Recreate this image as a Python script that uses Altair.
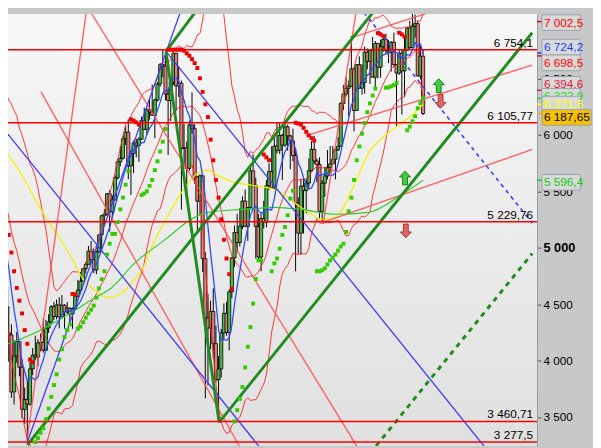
import altair as alt
import pandas as pd

# ---------------- monthly candles: index 0 = Dec 2000 ... index 176 = Aug 2015 ----------------
first_open = 6142.4
closes = [
    6222.5,
    6297.5, 5917.9, 5633.7, 5966.9, 5796.1, 5642.5, 5529.1, 5345.0, 4903.4, 5039.7, 5203.6, 5217.4,
    5164.8, 5101.0, 5271.8, 5165.6, 5085.1, 4656.4, 4246.2, 4227.3, 3721.8, 4039.7, 4169.4, 3940.4,
    3567.4, 3655.6, 3613.3, 3926.0, 4048.1, 4031.2, 4157.0, 4161.1, 4091.3, 4287.6, 4342.6, 4476.9,
    4390.7, 4492.2, 4385.7, 4489.7, 4430.7, 4464.1, 4413.1, 4459.3, 4570.8, 4624.2, 4703.2, 4814.3,
    4852.3, 4968.5, 4894.4, 4801.7, 4964.0, 5113.2, 5282.3, 5296.9, 5477.7, 5317.3, 5423.2, 5618.8,
    5760.3, 5791.5, 5964.6, 6023.1, 5723.8, 5833.4, 5928.3, 5906.1, 5960.8, 6129.2, 6048.8, 6220.8,
    6203.1, 6171.5, 6308.0, 6449.2, 6621.4, 6607.9, 6360.1, 6303.3, 6466.8, 6721.6, 6432.5, 6456.9,
    5879.8, 5884.3, 5702.1, 6087.3, 6053.5, 5625.9, 5411.9, 5636.6, 4902.5, 4377.3, 4288.0, 4434.2,
    4149.6, 3830.1, 3926.1, 4243.7, 4417.9, 4249.2, 4608.4, 4908.9, 5133.9, 5044.6, 5190.7, 5412.9,
    5188.5, 5354.5, 5679.6, 5553.3, 5188.4, 4916.9, 5258.0, 5225.2, 5548.6, 5675.2, 5528.3, 5899.9,
    5862.9, 5994.0, 5908.8, 6069.9, 5990.0, 5945.7, 5815.2, 5394.5, 5128.5, 5544.2, 5505.4, 5572.3,
    5681.6, 5871.5, 5768.5, 5737.8, 5320.9, 5571.1, 5635.3, 5711.5, 5742.1, 5782.7, 5866.8, 5897.8,
    6276.9, 6360.8, 6411.7, 6430.1, 6583.1, 6215.5, 6621.1, 6412.9, 6462.2, 6731.4, 6650.6, 6749.1,
    6510.4, 6809.7, 6598.4, 6780.0, 6844.5, 6743.9, 6730.1, 6819.8, 6622.7, 6546.5, 6722.6, 6566.1,
    6749.4, 6946.7, 6773.0, 6960.6, 6984.4, 6521.0, 6696.3, 6187.65,
]
highs = [
    6245,
    6360, 6360, 5990, 5975, 6010, 5880, 5700, 5570, 5400, 5280, 5360, 5300,
    5310, 5180, 5330, 5290, 5240, 5210, 4670, 4480, 4320, 4180, 4250, 4160,
    4010, 3760, 3810, 3990, 4110, 4220, 4190, 4240, 4370, 4360, 4410, 4490,
    4520, 4540, 4560, 4580, 4500, 4520, 4470, 4470, 4590, 4715, 4785, 4820,
    4870, 5015, 5060, 4990, 4975, 5115, 5290, 5340, 5485, 5510, 5465, 5640,
    5785, 5900, 5990, 6075, 6137, 5860, 5950, 5965, 5980, 6160, 6240, 6240,
    6320, 6445, 6320, 6465, 6635, 6754.1, 6716, 6405, 6520, 6730, 6727, 6605,
    6480, 6095, 5940, 6125, 6376, 6095, 5630, 5650, 5645, 4960, 4590, 4530,
    4640, 4310, 4040, 4280, 4505, 4520, 4630, 4920, 5195, 5300, 5350, 5455,
    5515, 5360, 5710, 5825, 5620, 5300, 5315, 5415, 5600, 5750, 5900, 5995,
    6105, 6105.77, 6010, 6100, 6090, 6000, 6055, 5875, 5445, 5610, 5625, 5615,
    5790, 5945, 5990, 5790, 5800, 5600, 5715, 5865, 5900, 5900, 5875, 5980,
    6290, 6440, 6510, 6480, 6875, 6600, 6625, 6695, 6625, 6780, 6765, 6750,
    6867, 6830, 6810, 6845, 6880, 6895, 6840, 6830, 6905, 6625, 6755, 6750,
    6860, 6960, 7010, 7122.7, 7065, 7005, 6790, 6755,
]
lows = [
    6040,
    6110, 5880, 5314, 5520, 5750, 5600, 5330, 5280, 4434, 4890, 4990, 5080,
    5040, 4990, 5070, 5100, 5030, 4500, 3777, 3990, 3670, 3610, 3980, 3860,
    3490, 3440, 3277.5, 3600, 3870, 4000, 3950, 4080, 4070, 4085, 4245, 4330,
    4360, 4365, 4285, 4385, 4282, 4405, 4335, 4281, 4450, 4560, 4615, 4700,
    4770, 4850, 4865, 4775, 4765, 4950, 4985, 5210, 5285, 5143, 5260, 5415,
    5605, 5720, 5780, 5910, 5605, 5467, 5660, 5800, 5760, 5955, 6040, 6000,
    6135, 6170, 5970, 6295, 6425, 6510, 6305, 5821, 6120, 6440, 6210, 6335,
    5337, 5750, 5410, 5680, 6010, 5565, 5150, 5290, 4785, 3665, 3780, 4100,
    4025, 3805, 3460.71, 3850, 4185, 4220, 4090, 4550, 4830, 4960, 5010, 5165,
    5180, 5060, 5340, 5540, 4904, 4900, 4790, 5170, 5180, 5510, 5520, 5515,
    5835, 5830, 5600, 5890, 5860, 5695, 5765, 4791, 4945, 4935, 5125, 5305,
    5520, 5675, 5740, 5580, 5260, 5229.76, 5450, 5605, 5660, 5740, 5605, 5855,
    5895, 6220, 6340, 6165, 6425, 6030, 6215, 6410, 6355, 6365, 6580, 6450,
    6505, 6415, 6500, 6505, 6735, 6720, 6635, 6560, 6600, 6072, 6530, 6180,
    6335, 6745, 6755, 6765, 6860, 6515, 6490, 6175,
]
opens = [first_open] + closes[:-1]

# ---------------- slow moving averages ----------------
yellow_t = [18.7, 26.6, 30.6, 36.8, 43.0, 47.7, 51.3, 57.5, 62.2, 66.9, 70.5, 74.2, 79.2, 85.0, 91.2,
            94.8, 98.5, 103.2, 113.0, 121.3, 127.5, 131.1, 134.7, 137.3, 143.1, 149.2, 155.4, 161.2,
            167.4, 173.5, 176.0]
yellow_v = [5861, 5574, 5400, 5165, 4939, 4730, 4643, 4557, 4591, 4704, 4817, 5026, 5252, 5487, 5661,
            5687, 5643, 5591, 5548, 5504, 5400, 5339, 5287, 5252, 5270, 5513, 5835, 5983,
            6096, 6209, 6271.5]
green_t = [18.7, 30.6, 43.0, 52.4, 58.6, 66.9, 79.2, 88.7, 94.8, 108.2, 120.2, 130.0, 143.1, 155.4,
           167.4, 176.0]
green_v = [4139, 4252, 4417, 4557, 4643, 4852, 5078, 5252, 5313, 5339, 5357, 5339, 5296, 5313,
           5461, 5596.4]

# ---------------- parabolic SAR dots (direction, first index, values) ----------------
sar_segments = [
    ("down", 19, [5270, 5113, 4957, 4791, 4643, 4530, 4417, 4270, 4148, 4009, 3983]),
    ("up", 30, [3277, 3313, 3360, 3400, 3480, 3574, 3678, 3783, 3878, 4009, 4100, 4209, 4270, 4320]),
    ("down", 44, [4590, 4585]),
    ("up", 46, [4281, 4300, 4340, 4380, 4417, 4450, 4487, 4557, 4640, 4720, 4791, 4939, 5035, 5122,
                5122, 5226, 5339, 5443, 5557, 5678]),
    ("down", 66, [6137, 6125, 6110, 6090]),
    ("up", 70, [5467, 5480, 5500, 5548, 5600, 5687, 5765, 5852, 5939, 6050]),
    ("down", 80, [6754, 6754, 6754, 6754, 6754, 6754, 6745, 6722, 6700, 6670, 6635, 6591, 6500, 6380,
                  6270, 6157, 5957, 5774, 5600, 5443, 5252, 5070, 4904, 4765, 4635]),
    ("up", 105, [3461, 3560, 3660, 3765, 3939, 4122, 4296, 4504, 4722, 4887, 4887]),
    ("down", 116, [5825, 5800, 5775]),
    ("up", 119, [4791, 4861, 4904, 4991, 5113, 5183, 5287, 5435, 5504]),
    ("down", 128, [6106, 6100, 6090, 6061, 6026, 5995, 5970, 5948]),
    ("up", 136, [4791, 4791, 4800, 4817, 4852, 4887, 4913, 4939, 4974, 5010, 5035, 5139, 5322, 5443,
                 5600, 5774, 5896, 6009, 6104, 6200, 6278, 6348, 6409]),
    ("down", 159, [6900, 6890, 6875]),
    ("up", 162, [6417, 6420, 6430, 6440, 6460]),
    ("down", 167, [6904, 6890, 6870]),
    ("up", 170, [6040, 6072, 6120, 6165, 6235, 6280, 6322.9]),
]

# ---------------- drawn trend lines: (t1, v1, t2, v2) ----------------
green_lines = [(27, 3252, 159.0, 7139), (79.2, 6739, 99.2, 3452), (79.2, 6739, 91.9, 7139),
               (99.2, 3452, 217.1, 6904)]
green_dashed = [(158.3, 3243, 217.1, 4948)]
blue_lines = [(27, 3278, 85.4, 7139), (79.2, 6739, 198.9, 3243), (18.7, 6035, 114.1, 3243)]
blue_dashed = [(151.8, 7139, 217.1, 5217)]
red_lines = [(27, 3313, 49.5, 7139), (49.5, 7139, 151.0, 3243), (32.1, 6383, 106.8, 3243),
             (138.4, 5209, 151.1, 7139), (131.8, 5991, 217.1, 6617), (138.6, 5226, 217.1, 5870),
             (149.2, 6861, 185.5, 7139)]

# ---------------- horizontal levels ----------------
levels = [6754.1, 6105.77, 5229.76, 3460.71, 3277.5]
level_labels = ["6 754,1", "6 105,77", "5 229,76", "3 460,71", "3 277,5"]

# ---------------- signal arrows ----------------
arrow_up_t = [181.9, 169.2]
arrow_up_v = [6435, 5617]
arrow_down_t = [182.6, 169.5]
arrow_down_v = [6296, 5148]

# ---------------- price boxes on the axis ----------------
box_values = [7002.5, 6724.2, 6698.5, 6394.6, 6322.9, 6271.5, 6187.65, 5596.4]
box_texts = ["7 002,5", "6 724,2", "6 698,5", "6 394,6", "6 322,9", "6 271,5", "6 187,65", "5 596,4"]
box_colors = ["#ff0000", "#1a3cff", "#ff0000", "#e8143c", "#22dd22", "#ffff00", "#000000", "#11cc11"]
box_fills = ["#d9d9d9"] * 6 + ["#f6c000", "#d9d9d9"]
box_shift = [1, -6, 7, -6, -2, 0, 4, 2]

# axis tick values
y_ticks = [3500, 4000, 4500, 5000, 5500, 6000, 6500]

# ======================================================================
FONT = "Liberation Sans"
XS = alt.Scale(domain=[21.56, 217.06], nice=False, zero=False)
YS = alt.Scale(domain=[3243.5, 7069.6], nice=False, zero=False)

yaxis = alt.Axis(
    orient="right", title=None, grid=False,
    values=y_ticks,
    labelExpr="replace(format(datum.value, ','), ',', ' ')",
    labelFont=FONT, labelColor="#000000",
    labelFontSize=alt.condition("datum.value == 5000", alt.value(13), alt.value(12)),
    labelFontWeight=alt.condition("datum.value == 5000", alt.value("bold"), alt.value("normal")),
    tickColor="#4a5560", tickSize=4, domainColor="#8e9aa6", labelPadding=2,
    minExtent=46, maxExtent=46, labelOverlap=False, labelBound=False,
)


def X(f):
    return alt.X(f, type="quantitative", scale=XS, axis=None, title=None)


def Y(f):
    return alt.Y(f, type="quantitative", scale=YS, axis=yaxis, title=None)


df = pd.DataFrame({"t": list(range(len(closes))), "open": opens, "high": highs,
                   "low": lows, "close": closes})
df["dir"] = ["up" if c >= o else "down" for o, c in zip(opens, closes)]

bg = alt.Chart(pd.DataFrame({"z": [0]})).mark_rect(
    fill=alt.LinearGradient(gradient="linear",
                            stops=[alt.GradientStop(color="#f7f7f7", offset=0),
                                   alt.GradientStop(color="#e0e0e0", offset=1)],
                            x1=0, x2=0, y1=0, y2=1)
).encode(x=alt.value(0), x2=alt.value(539), y=alt.value(0), y2=alt.value(440))

wicks = alt.Chart(df).mark_rule(color="#000000", strokeWidth=1, clip=True).encode(
    x=X("t"), y=Y("low"), y2="high:Q")
bodies = alt.Chart(df).mark_bar(size=3.2, stroke="#000000", strokeWidth=0.8, clip=True).encode(
    x=X("t"), y=Y("open"), y2="close:Q",
    fill=alt.Fill("dir:N", scale=alt.Scale(domain=["up", "down"], range=["#45bb45", "#e87c7c"]),
                  legend=None))

boll = alt.Chart(df).transform_window(
    bb_mid="mean(close)", bb_sd="stdevp(close)", frame=[-19, 0], sort=[alt.SortField("t")]
).transform_filter("datum.t >= 19").transform_calculate(
    bb_up="datum.bb_mid + 2 * datum.bb_sd", bb_lo="datum.bb_mid - 2 * datum.bb_sd"
).transform_fold(["bb_up", "bb_mid", "bb_lo"], as_=["band", "val"]).mark_line(
    color="#ff2020", strokeWidth=1, opacity=0.9, clip=True
).encode(x=X("t"), y=Y("val"), detail="band:N")

sma = alt.Chart(df).transform_window(
    sma7="mean(close)", frame=[-6, 0], sort=[alt.SortField("t")]
).transform_filter("datum.t >= 6").mark_line(color="#2a4bff", strokeWidth=1.3, clip=True).encode(
    x=X("t"), y=Y("sma7"))

yel = alt.Chart(pd.DataFrame({"t": yellow_t, "v": yellow_v})).mark_line(
    color="#f2f200", strokeWidth=1.3, interpolate="monotone", clip=True).encode(x=X("t"), y=Y("v"))
grn = alt.Chart(pd.DataFrame({"t": green_t, "v": green_v})).mark_line(
    color="#2ecc2e", strokeWidth=1.2, interpolate="monotone", clip=True).encode(x=X("t"), y=Y("v"))


def seg_chart(segs, color, width, dash=None, opacity=1.0):
    d = pd.DataFrame(segs, columns=["t1", "v1", "t2", "v2"])
    kw = dict(color=color, strokeWidth=width, opacity=opacity, clip=True)
    if dash:
        kw["strokeDash"] = dash
    return alt.Chart(d).mark_rule(**kw).encode(x=X("t1"), y=Y("v1"), x2="t2:Q", y2="v2:Q")


reds = seg_chart(red_lines, "#ff4a4a", 1.4, opacity=0.85)
blues = seg_chart(blue_lines, "#3c3cff", 1.3)
blued = seg_chart(blue_dashed, "#3c3cff", 1.6, dash=[4, 4])
greens = seg_chart(green_lines, "#1f8c1f", 3)
greend = seg_chart(green_dashed, "#1f8c1f", 3, dash=[5, 5])

lev_df = pd.DataFrame({"level": levels, "label": level_labels})
lev = alt.Chart(lev_df).mark_rule(color="#ff0000", strokeWidth=1.5, clip=True).encode(y=Y("level"))
lev_txt = alt.Chart(lev_df).mark_text(align="right", baseline="alphabetic", dy=-3, font=FONT,
                                      fontSize=12, color="#000000").encode(
    x=alt.value(535), y=Y("level"), text="label:N")

sar_rows = []
for direction, start, vals in sar_segments:
    for k, v in enumerate(vals):
        sar_rows.append({"t": start + k, "v": v, "dir": direction})
sar = alt.Chart(pd.DataFrame(sar_rows)).mark_square(size=16, opacity=1, clip=True).encode(
    x=X("t"), y=Y("v"),
    color=alt.Color("dir:N", scale=alt.Scale(domain=["up", "down"], range=["#33cc00", "#ee0000"]),
                    legend=None))

up_path = "M0,-1L0.8,-0.15L0.35,-0.15L0.35,1L-0.35,1L-0.35,-0.15L-0.8,-0.15Z"
down_path = "M0,1L0.8,0.15L0.35,0.15L0.35,-1L-0.35,-1L-0.35,0.15L-0.8,0.15Z"
arr_up = alt.Chart(pd.DataFrame({"t": arrow_up_t, "v": arrow_up_v})).mark_point(
    shape=up_path, size=196, filled=True, fill="#3fd03f", stroke="#1c7a1c", strokeWidth=1,
    opacity=1).encode(x=X("t"), y=Y("v"))
arr_dn = alt.Chart(pd.DataFrame({"t": arrow_down_t, "v": arrow_down_v})).mark_point(
    shape=down_path, size=196, filled=True, fill="#e06464", stroke="#a03a3a", strokeWidth=1,
    opacity=1).encode(x=X("t"), y=Y("v"))

box_layers = []
for v, txt, col, fillc, off in zip(box_values, box_texts, box_colors, box_fills, box_shift):
    bd = pd.DataFrame({"v": [v], "txt": [txt]})
    wide = len(txt) > 7
    side = 50 if wide else 39
    hy = 8.0 / (side / 2.0)
    path = f"M-1,-{hy:.3f}L1,-{hy:.3f}L1,{hy:.3f}L-1,{hy:.3f}Z"
    cx = 544 + side / 2.0
    box_layers.append(alt.Chart(bd).mark_rule(color=col if col != "#000000" else "#f6a000",
                                              strokeWidth=1.5).encode(
        x=alt.value(539), x2=alt.value(544), y=Y("v")))
    box_layers.append(alt.Chart(bd).mark_point(
        shape=path, size=side * side, filled=True, fill=fillc, stroke="#98a3ad", strokeWidth=1,
        opacity=1, yOffset=off).encode(x=alt.value(cx), y=Y("v")))
    box_layers.append(alt.Chart(bd).mark_text(
        align="left", baseline="middle", dy=off, font=FONT, fontSize=12, color=col).encode(
        x=alt.value(546), y=Y("v"), text="txt:N"))

chart = alt.layer(
    bg, wicks, bodies, boll, yel, grn, sma, reds, blues, blued, greens, greend,
    lev, lev_txt, sar, arr_up, arr_dn, *box_layers
).properties(width=539, height=440, padding=0).configure(
    background="#c8c8c8"
).configure_view(stroke=None)

chart.save("out.html", embed_options={"renderer": "svg", "actions": False})
